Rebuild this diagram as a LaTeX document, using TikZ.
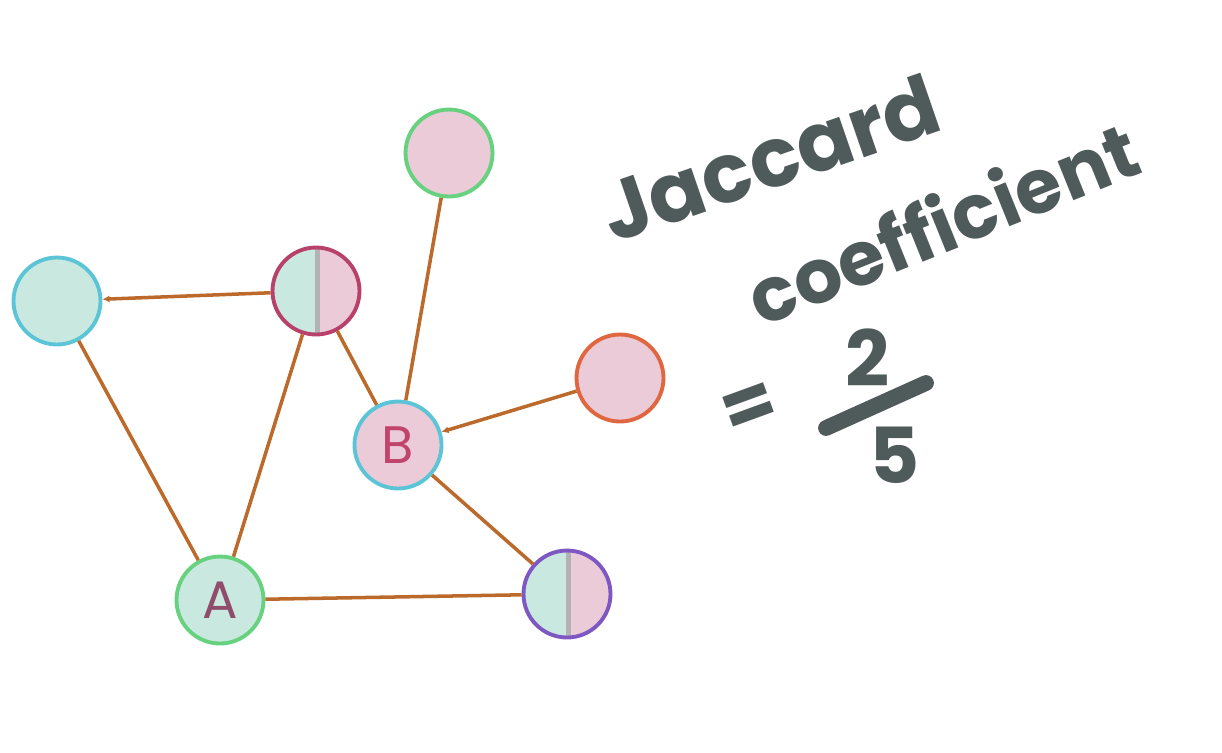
\documentclass[tikz,border=0pt]{standalone}
\usepackage{fontspec}
\setmainfont{Poppins}
\usetikzlibrary{arrows.meta}
\definecolor{mint}{HTML}{C9E9E0}
\definecolor{blush}{HTML}{EBCBD8}
\definecolor{skyline}{HTML}{5BC4D6}
\definecolor{leaf}{HTML}{66D17F}
\definecolor{berry}{HTML}{B8416A}
\definecolor{ember}{HTML}{E0663F}
\definecolor{grape}{HTML}{7E57C2}
\definecolor{rust}{HTML}{BB6A2B}
\definecolor{slate}{HTML}{4F5A5A}
\definecolor{plum}{HTML}{8F4D6C}
\definecolor{rosy}{HTML}{C0446C}

\begin{document}
\begin{tikzpicture}[x=0.02cm, y=-0.02cm,
  dot/.style = {shape=circle, draw, minimum size=1.74cm,
    inner sep=0pt, line width=2.2pt},
  split/.style = {path picture={
    \fill[mint] (path picture bounding box.south west)
      rectangle (path picture bounding box.north);
    \fill[blush] (path picture bounding box.north)
      rectangle (path picture bounding box.south east);
    \draw[black!30, line width=3pt]
      ([xshift=1pt]path picture bounding box.north)
      -- ([xshift=1pt]path picture bounding box.south);}},
  edge/.style = {draw=rust, line width=2pt},
  hand/.style = {text=slate, font=\bfseries, inner sep=0pt}]

  \useasboundingbox (0,0) rectangle (1222,752);

  % the graph
  \node[dot, draw=leaf, fill=blush]    (top)   at (449,153) {};
  \node[dot, draw=skyline, fill=mint]  (left)  at (57,301)  {};
  \node[dot, draw=berry, split]        (mid)   at (316,291) {};
  \node[dot, draw=skyline, fill=blush, text=rosy,
    font=\fontsize{30}{30}\selectfont] (b)     at (398,445) {B};
  \node[dot, draw=ember, fill=blush]   (right) at (620,378) {};
  \node[dot, draw=leaf, fill=mint, text=plum,
    font=\fontsize{30}{30}\selectfont] (a)     at (220,600) {A};
  \node[dot, draw=grape, split]        (low)   at (567,594) {};

  \draw[edge, -{Latex[length=4pt,width=4pt]}] (mid) -- (left);
  \draw[edge] (left) -- (a);
  \draw[edge] (a) -- (mid);
  \draw[edge] (mid) -- (b);
  \draw[edge] (top) -- (b);
  \draw[edge, -{Latex[length=4pt,width=4pt]}] (right) -- (b);
  \draw[edge] (b) -- (low);
  \draw[edge] (a) -- (low);

  % the note
  \node[hand, rotate=19, font=\bfseries\fontsize{47}{47}\selectfont]
    (jac) at (770,158) {Jaccard};
  \node[hand, rotate=22, font=\bfseries\fontsize{43}{43}\selectfont]
    (coef) at (942,222) {coefficient};
  \node[hand, rotate=20, font=\bfseries\fontsize{44}{44}\selectfont]
    (eq) at (750,410) {=};
  \node[hand, font=\bfseries\fontsize{44}{44}\selectfont]
    (two) at (868,358) {2};
  \node[hand, font=\bfseries\fontsize{44}{44}\selectfont]
    (five) at (895,455) {5};
  \coordinate (barl) at (826,428);
  \coordinate (barr) at (926,383);
  \draw[slate, line width=9pt, line cap=round] (barl) -- (barr);
\end{tikzpicture}
\end{document}
